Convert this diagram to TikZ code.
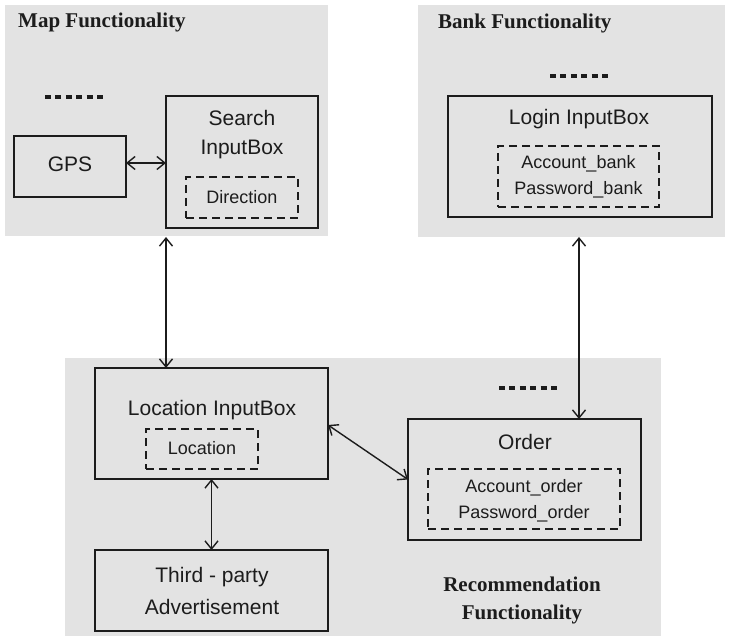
\documentclass[tikz,border=0pt]{standalone}
\usepackage{fontspec}
\setmainfont{Liberation Sans}
\newfontfamily\titlefont{Liberation Serif}
\usetikzlibrary{arrows.meta}
\definecolor{panelgray}{RGB}{227,227,227}
\definecolor{ink}{RGB}{28,28,28}
\begin{document}
\begin{tikzpicture}[x=1pt,y=-1pt,
  panel/.style={fill=panelgray,draw=none},
  box/.style={draw=ink,line width=2.4pt,rectangle,inner sep=0pt,outer sep=0pt},
  dbox/.style={draw=ink,line width=2.2pt,dash pattern=on 8pt off 5pt,rectangle,inner sep=0pt,outer sep=0pt},
  lbl/.style={text=ink,font=\fontsize{21}{25}\selectfont,inner sep=0pt},
  slbl/.style={text=ink,font=\fontsize{18}{22}\selectfont,inner sep=0pt},
  ttl/.style={text=ink,font=\titlefont\bfseries\fontsize{21}{25}\selectfont,inner sep=0pt},
  dots/.style={draw=ink,line width=4.5pt,dash pattern=on 6pt off 4.4pt},
  link/.style={draw=ink,line width=1.4pt,{Straight Barb[length=8pt,width=13pt]}-{Straight Barb[length=8pt,width=13pt]}}]
\useasboundingbox (0,0) rectangle (731,636);

% grey functionality panels
\fill[panel] (5,5) rectangle (328,236);
\fill[panel] (418,5) rectangle (725,237);
\fill[panel] (65,358) rectangle (661,636);

% Map functionality
\node[ttl,anchor=west] (maptitle) at (18,22) {Map Functionality};
\draw[dots] (45,97) -- (103,97);
\node[box,minimum width=112pt,minimum height=61pt] (gps) at (70,166.5) {};
\node[lbl] (gpstext) at (70,164) {GPS};
\node[box,minimum width=152pt,minimum height=132pt] (search) at (242,162) {};
\node[lbl] (searchtext1) at (242,118) {Search};
\node[lbl] (searchtext2) at (242,149) {InputBox};
\node[dbox,minimum width=112pt,minimum height=41pt] (direction) at (242,197.5) {};
\node[slbl] (directiontext) at (242,197) {Direction};

% Bank functionality
\node[ttl,anchor=west] (banktitle) at (438,23) {Bank Functionality};
\draw[dots] (550,76) -- (608,76);
\node[box,minimum width=264pt,minimum height=121pt] (login) at (580,156.5) {};
\node[lbl] (logintext) at (579,119) {Login InputBox};
\node[dbox,minimum width=161pt,minimum height=61pt] (bankfields) at (578.5,176.5) {};
\node[slbl] (accbank) at (578.5,164) {Account\_bank};
\node[slbl] (pwbank) at (578.5,190) {Password\_bank};

% Recommendation functionality
\draw[dots] (499,388) -- (557,388);
\node[box,minimum width=233pt,minimum height=111pt] (loc) at (211.5,423.5) {};
\node[lbl] (loctext) at (212,410) {Location InputBox};
\node[dbox,minimum width=112pt,minimum height=40pt] (locfield) at (202,449) {};
\node[slbl] (locfieldtext) at (202,448) {Location};
\node[box,minimum width=233pt,minimum height=81pt] (third) at (211.5,590.5) {};
\node[lbl] (thirdtext1) at (212,577) {Third - party};
\node[lbl] (thirdtext2) at (212,607) {Advertisement};
\node[box,minimum width=233pt,minimum height=121pt] (order) at (524.5,479.5) {};
\node[lbl] (ordertext) at (525,442) {Order};
\node[dbox,minimum width=192pt,minimum height=60pt] (orderfields) at (524,499) {};
\node[slbl] (accorder) at (524,488) {Account\_order};
\node[slbl] (pworder) at (524,514) {Password\_order};
\node[ttl] (rectitle1) at (522,584) {Recommendation};
\node[ttl] (rectitle2) at (522,614) {Functionality};

% free ends of the links leaving the upper panels
\coordinate (mapexit) at (166,237);
\coordinate (bankexit) at (579,237);

% connectors
\draw[link] (gps.east |- 0,163) -- (search.west |- 0,163);
\draw[link] (mapexit) -- (mapexit |- loc.north);
\draw[link] (bankexit) -- (bankexit |- order.north);
\draw[link] (loc.east |- 0,425) -- (order.west);
\draw[link] (loc.south) -- (third.north);
\end{tikzpicture}
\end{document}
